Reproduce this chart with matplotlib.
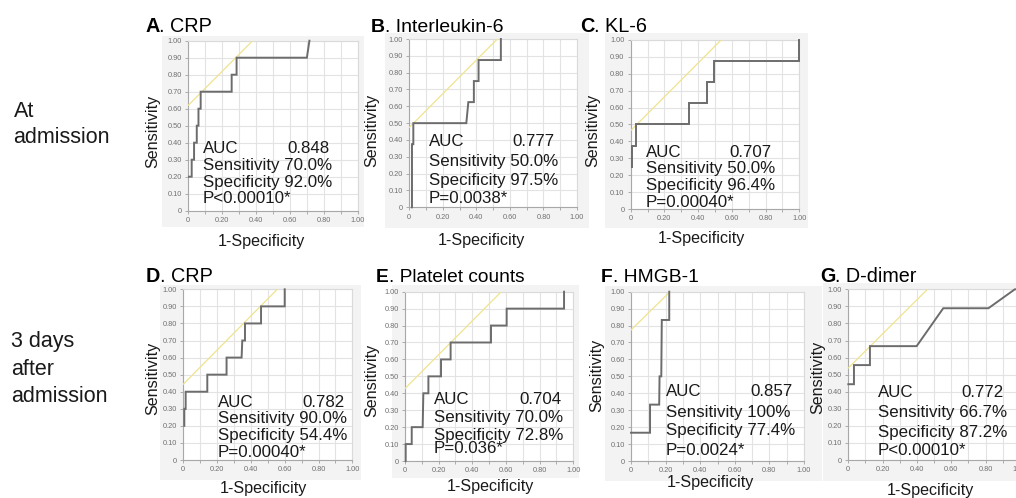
import matplotlib
matplotlib.use('Agg')
import matplotlib.pyplot as plt
from matplotlib.patches import Rectangle
from matplotlib.text import Annotation
import numpy as np

plt.rcParams['font.family'] = ['Liberation Sans', 'DejaVu Sans']

# ---------------- data ----------------
panel_letters = ['A', 'B', 'C', 'D', 'E', 'F', 'G']
panel_names = ['CRP', 'Interleukin-6', 'KL-6', 'CRP', 'Platelet counts', 'HMGB-1', 'D-dimer']
auc_values = ['0.848', '0.777', '0.707', '0.782', '0.704', '0.857', '0.772']
sensitivity_pct = [70.0, 50.0, 50.0, 90.0, 70.0, 100.0, 66.7]
specificity_pct = [92.0, 97.5, 96.4, 54.4, 72.8, 77.4, 87.2]
p_values = ['P<0.00010*', 'P=0.0038*', 'P=0.00040*', 'P=0.00040*', 'P=0.036*', 'P=0.0024*', 'P<0.00010*']
row_labels = [['At', 'admission'], ['3 days', 'after', 'admission']]

crp_adm_fpr = [0.004, 0.02, 0.02, 0.034, 0.034, 0.05, 0.05, 0.06, 0.06, 0.073, 0.073, 0.256, 0.256, 0.285, 0.285, 0.70, 0.715]
crp_adm_tpr = [0.2, 0.2, 0.3, 0.3, 0.4, 0.4, 0.5, 0.5, 0.6, 0.6, 0.7, 0.7, 0.8, 0.8, 0.9, 0.9, 1.0]
il6_fpr = [0.016, 0.016, 0.024, 0.024, 0.34, 0.352, 0.385, 0.385, 0.413, 0.413, 0.546, 0.546]
il6_tpr = [0.0, 0.375, 0.375, 0.5, 0.5, 0.625, 0.625, 0.75, 0.75, 0.875, 0.875, 1.0]
kl6_fpr = [0.006, 0.006, 0.032, 0.032, 0.348, 0.348, 0.45, 0.45, 0.494, 0.494, 1.0, 1.0]
kl6_tpr = [0.25, 0.375, 0.375, 0.5, 0.5, 0.625, 0.625, 0.75, 0.75, 0.875, 0.875, 1.0]
crp_d3_fpr = [0.006, 0.006, 0.014, 0.014, 0.142, 0.142, 0.256, 0.256, 0.345, 0.349, 0.365, 0.365, 0.46, 0.46, 0.60, 0.60]
crp_d3_tpr = [0.2, 0.3, 0.3, 0.4, 0.4, 0.5, 0.5, 0.6, 0.6, 0.7, 0.7, 0.8, 0.8, 0.9, 0.9, 1.0]
plt_fpr = [0.004, 0.004, 0.04, 0.04, 0.105, 0.109, 0.139, 0.139, 0.214, 0.214, 0.271, 0.271, 0.511, 0.511, 0.604, 0.604, 0.945, 0.945]
plt_tpr = [0.0, 0.1, 0.1, 0.2, 0.2, 0.4, 0.4, 0.5, 0.5, 0.6, 0.6, 0.7, 0.7, 0.8, 0.8, 0.9, 0.9, 1.0]
hmgb_fpr = [0.0, 0.11, 0.11, 0.163, 0.165, 0.175, 0.178, 0.221, 0.221]
hmgb_tpr = [0.167, 0.167, 0.333, 0.333, 0.5, 0.5, 0.833, 0.833, 1.0]
ddim_fpr = [0.0, 0.033, 0.033, 0.126, 0.126, 0.398, 0.553, 0.816, 0.97, 1.0]
ddim_tpr = [0.444, 0.444, 0.556, 0.556, 0.667, 0.667, 0.889, 0.889, 1.0, 1.0]

curves_fpr = [crp_adm_fpr, il6_fpr, kl6_fpr, crp_d3_fpr, plt_fpr, hmgb_fpr, ddim_fpr]
curves_tpr = [crp_adm_tpr, il6_tpr, kl6_tpr, crp_d3_tpr, plt_tpr, hmgb_tpr, ddim_tpr]

x_tick_vals = [0, 0.2, 0.4, 0.6, 0.8, 1.0]
x_tick_labels = ['0', '0.20', '0.40', '0.60', '0.80', '1.00']
y_tick_vals = [0, 0.1, 0.2, 0.3, 0.4, 0.5, 0.6, 0.7, 0.8, 0.9, 1.0]
y_tick_labels = ['0', '0.10', '0.20', '0.30', '0.40', '0.50', '0.60', '0.70', '0.80', '0.90', '1.00']

# ---------------- layout (pixels) ----------------
W, H = 1016, 498
fig = plt.figure(figsize=(W / 100, H / 100), dpi=100)
fig.patch.set_facecolor('white')


def fx(px):
    return px / W


def fy(py):
    return 1 - py / H


axes_px = [(188.3, 357.7, 40.7, 210.7), (409.3, 577, 39, 207.3), (630.7, 799.3, 40, 209),
           (183.3, 352.3, 289.3, 460), (405, 573.3, 291.7, 461), (631, 804, 291.7, 461),
           (848.3, 1020, 289.3, 460)]
bg_px = [(162, 364, 36, 227), (385, 589, 33, 228), (605, 808, 33, 228),
         (160, 361, 285, 480), (392, 579, 285, 478), (605, 822, 286, 481),
         (823, 1030, 283, 481)]
title_px = [(145, 31.7, 14.3), (371, 31.7, 14.0), (580, 31.7, 14.3),
            (146, 281.7, 14.3), (376, 281.7, 13.8), (601, 282, 13.9), (820, 281.7, 14.2)]
ylab_px = [(153, 131.7), (371.7, 130.8), (593, 130), (152.7, 378.3), (371.7, 380.8), (596.7, 375.8), (817.5, 377.5)]
xlab_px = [(261.7, 246), (481.7, 245), (701.7, 242.7), (263, 492.7), (490, 490.7), (710, 486.7), (930, 494.5)]
ann_px = [(202.7, 329.3, [153.3, 170, 186.7, 203.3]),
          (429, 554.3, [146, 165.7, 185, 203.3]),
          (646, 771.7, [156.7, 173.3, 190, 206.7]),
          (217.7, 345, [406.7, 423.3, 440, 456.7]),
          (434, 561.7, [404, 421.7, 440, 453.3]),
          (666, 793, [395.7, 416.7, 435, 455]),
          (877.7, 1004, [396.7, 416.7, 436.7, 455])]

ANN_FS = 12.2
LAB_FS = 11.6
TEXT_COL = '#1a1a1a'

for i in range(7):
    # panel background
    bx0, bx1, bt, bb = bg_px[i]
    fig.add_artist(Rectangle((fx(bx0), fy(bb)), (bx1 - bx0) / W, (bb - bt) / H,
                             transform=fig.transFigure, facecolor='#f3f3f3',
                             edgecolor='none', zorder=-10))
    x0, x1, yt, yb = axes_px[i]
    ax = fig.add_axes([fx(x0), fy(yb), (x1 - x0) / W, (yb - yt) / H])
    ax.set_facecolor('white')
    ax.set_xlim(0, 1)
    ax.set_ylim(0, 1)
    ax.set_xticks(x_tick_vals)
    ax.set_xticklabels(x_tick_labels)
    ax.set_xticks(np.arange(0.1, 1.0, 0.2), minor=True)
    ax.set_yticks(y_tick_vals)
    ax.set_yticklabels(y_tick_labels)
    ax.grid(True, which='both', color='#e3e3e3', lw=0.8)
    ax.set_axisbelow(True)
    ax.tick_params(which='both', length=2, width=0.6, color='#a0a0a0',
                   labelsize=5.3, labelcolor='#707070', pad=2.5)
    for s in ['left', 'bottom']:
        ax.spines[s].set_color('#a8a8a8')
        ax.spines[s].set_linewidth(0.8)
    for s in ['top', 'right']:
        ax.spines[s].set_color('#dadada')
        ax.spines[s].set_linewidth(0.8)

    # Youden tangent line (slope 1 through the optimal cut-off point)
    j = sensitivity_pct[i] / 100 + specificity_pct[i] / 100 - 1
    ax.plot([0, 1 - j], [j, 1], color='#efe38e', lw=0.9, zorder=3)
    # ROC curve
    ax.plot(curves_fpr[i], curves_tpr[i], color='#6c6c6c', lw=1.4, zorder=4,
            clip_on=False, solid_joinstyle='miter')

    # title
    tx, tb, tfs = title_px[i]
    t1 = fig.text(fx(tx), fy(tb), panel_letters[i], fontsize=tfs, fontweight='bold',
                  ha='left', va='baseline', color='black')
    ann = Annotation('. ' + panel_names[i], xy=(1, 0), xycoords=t1, ha='left', va='bottom',
                     fontsize=tfs, color='black')
    fig.add_artist(ann)

    # axis labels
    ylx, yly = ylab_px[i]
    fig.text(fx(ylx), fy(yly), 'Sensitivity', rotation=90, ha='center', va='center',
             fontsize=LAB_FS, color=TEXT_COL)
    xlx, xlb = xlab_px[i]
    fig.text(fx(xlx), fy(xlb), '1-Specificity', ha='center', va='baseline',
             fontsize=LAB_FS, color=TEXT_COL)

    # annotation block
    al, ar, bl = ann_px[i]
    sens = sensitivity_pct[i]
    sens_txt = '100%' if sens >= 100 else '%.1f%%' % sens
    fig.text(fx(al), fy(bl[0]), 'AUC', ha='left', va='baseline', fontsize=ANN_FS, color=TEXT_COL)
    fig.text(fx(ar), fy(bl[0]), auc_values[i], ha='right', va='baseline', fontsize=ANN_FS, color=TEXT_COL)
    fig.text(fx(al), fy(bl[1]), 'Sensitivity ' + sens_txt, ha='left', va='baseline',
             fontsize=ANN_FS, color=TEXT_COL)
    fig.text(fx(al), fy(bl[2]), 'Specificity %.1f%%' % specificity_pct[i], ha='left',
             va='baseline', fontsize=ANN_FS, color=TEXT_COL)
    fig.text(fx(al), fy(bl[3]), p_values[i], ha='left', va='baseline', fontsize=ANN_FS, color=TEXT_COL)

# row labels
row_pos = [(13.5, [116.7, 143.3]), (11, [347.3, 375, 401.7])]
for (lx, bls), lines in zip(row_pos, row_labels):
    for b, line in zip(bls, lines):
        fig.text(fx(lx), fy(b), line, ha='left', va='baseline', fontsize=15.5, color=TEXT_COL)

fig.savefig('out.png', dpi=100)
